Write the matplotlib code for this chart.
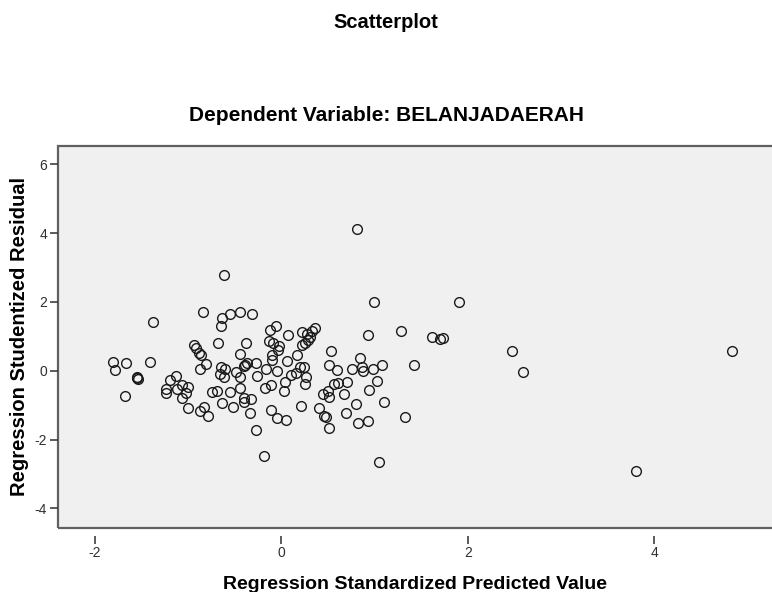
import matplotlib
matplotlib.use("Agg")
import matplotlib.pyplot as plt
from matplotlib.patches import Rectangle

plt.rcParams['font.family'] = ['Liberation Sans', 'DejaVu Sans']
plt.rcParams['axes.unicode_minus'] = False

# regression standardized predicted value / studentized residual
pred = [
    -1.80, -1.78, -1.66, -1.68, -1.55, -1.55, -1.54, -1.41, -1.37, -1.23,
    -1.23, -1.19, -1.13, -1.12, -1.06, -1.00, -1.02, -1.06, -1.00, -0.93,
    -0.91, -0.88, -0.86, -0.81, -0.87, -0.84, -0.83, -0.87, -0.79, -0.74,
    -0.69, -0.68, -0.65, -0.64, -0.61, -0.55, -0.44, -0.31, -0.65, -0.60,
    -0.66, -0.61, -0.64, -0.52, -0.55, -0.44, -0.40, -0.40, -0.32, -0.33,
    -0.27, -0.18, -0.48, -0.44, -0.44, -0.38, -0.40, -0.39, -0.37, -0.27,
    -0.26, -0.16, -0.17, -0.11, -0.11, -0.05, 0.05, -0.12, -0.06, -0.13,
    -0.09, -0.02, -0.03, -0.10, -0.10, -0.04, 0.06, 0.07, 0.17, 0.16,
    0.10, 0.04, 0.03, 0.21, 0.20, 0.24, 0.27, 0.26, 0.22, 0.25,
    0.29, 0.31, 0.36, 0.33, 0.22, 0.28, 0.40, 0.46, 0.48, 0.51,
    0.45, 0.50, 0.51, 0.57, 0.61, 0.67, 0.71, 0.53, 0.51, 0.60,
    0.76, 0.85, 0.87, 0.88, 0.98, 1.08, 1.03, 0.94, 0.80, 0.70,
    0.82, 0.93, 1.10, 1.05, 1.33, 0.81, 0.99, 0.93, 1.28, 1.62,
    1.70, 1.74, 1.42, 1.91, 2.47, 2.59, 3.80, 4.83,
]
resid = [
    0.26, 0.02, 0.23, -0.74, -0.17, -0.21, -0.24, 0.26, 1.42, -0.54,
    -0.66, -0.27, -0.15, -0.54, -0.42, -0.46, -0.64, -0.80, -1.07, 0.75,
    0.67, 0.52, 0.46, 0.19, 0.04, 1.72, -1.05, -1.17, -1.30, -0.61,
    -0.59, 0.81, 1.30, 1.52, 2.78, 1.64, 1.72, 1.65, 0.12, 0.04,
    -0.10, -0.19, -0.94, -1.05, -0.62, -0.51, -0.78, -0.90, -0.83, -1.23,
    -1.71, -2.49, -0.03, -0.17, 0.50, 0.81, 0.13, 0.18, 0.23, 0.23,
    -0.16, 0.04, -0.50, -0.42, -1.15, -1.37, -1.44, 1.18, 1.29, 0.87,
    0.80, 0.73, 0.59, 0.46, 0.32, -0.02, 0.28, 1.05, 0.46, -0.06,
    -0.12, -0.33, -0.60, -1.02, 0.12, 0.12, -0.17, -0.38, 0.75, 0.82,
    0.88, 0.99, 1.25, 1.15, 1.13, 1.08, -1.09, -1.31, -1.35, -1.67,
    -0.67, -0.60, -0.76, -0.39, -0.35, -0.68, -0.33, 0.56, 0.17, 0.02,
    0.04, 0.37, 0.12, -0.02, 0.06, 0.17, -0.29, -0.57, -0.97, -1.24,
    -1.53, -1.45, -0.90, -2.65, -1.33, 4.11, 2.01, 1.03, 1.15, 0.99,
    0.93, 0.96, 0.17, 1.99, 0.58, -0.03, -2.91, 0.56,
]

x_ticks = [-2, 0, 2, 4]
y_ticks = [-4, -2, 0, 2, 4, 6]

fig = plt.figure(figsize=(7.72, 5.92), dpi=100)
ax = fig.add_axes([0.0755, 0.1086, 0.9245, 0.6453])
ax.set_facecolor('#f0f0f0')

ax.plot(pred, resid, linestyle='none', marker='o', markersize=7,
        markerfacecolor='none', markeredgecolor='#1a1a1a', markeredgewidth=1.0)

ax.set_xlim(-2.39, 5.262)
ax.set_ylim(-4.56, 6.54)
ax.set_xticks(x_ticks)
ax.set_yticks(y_ticks)

for s in ax.spines.values():
    s.set_visible(False)
ax.spines['bottom'].set_position(('outward', 6))
ax.add_patch(Rectangle((0, 0), 1.2, 1, transform=ax.transAxes, fill=False,
                       edgecolor='#606060', linewidth=1.6, clip_on=False))

ax.tick_params(axis='both', direction='out', length=6, width=1.2,
               color='#404040', labelsize=10, labelcolor='#303030')
ax.tick_params(axis='x', pad=1)
ax.tick_params(axis='y', pad=2)

ax.set_xlabel('Regression Standardized Predicted Value', fontsize=14,
              fontweight='bold', labelpad=12)
ax.set_ylabel('Regression Studentized Residual', fontsize=14.5,
              fontweight='bold', labelpad=4)

fig.text(0.5, 0.962, 'Scatterplot', ha='center', va='center',
         fontsize=14.5, fontweight='bold')
fig.text(0.5, 0.805, 'Dependent Variable: BELANJADAERAH', ha='center',
         va='center', fontsize=15, fontweight='bold')

fig.savefig('out.png', dpi=100)
